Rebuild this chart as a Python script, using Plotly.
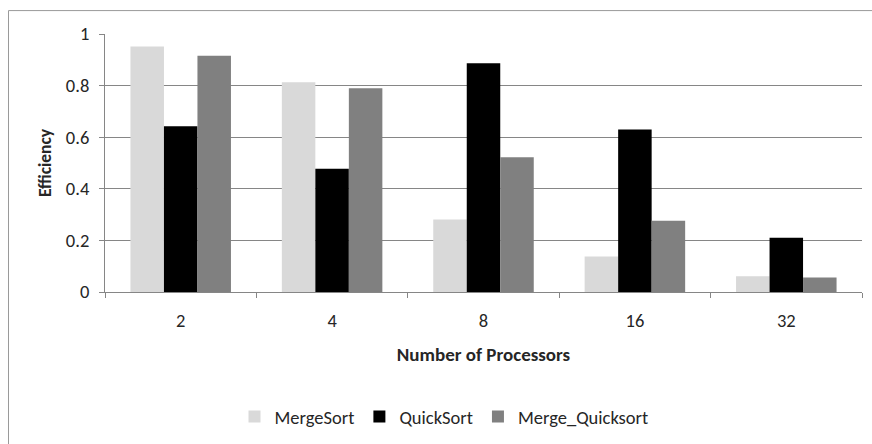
import plotly.graph_objects as go

# Parallel sorting efficiency by processor count
processors = ["2", "4", "8", "16", "32"]
merge_sort = [0.952, 0.813, 0.281, 0.138, 0.061]
quick_sort = [0.642, 0.478, 0.887, 0.630, 0.210]
merge_quicksort = [0.916, 0.790, 0.522, 0.276, 0.056]

series = [
    ("MergeSort", merge_sort, "#d9d9d9"),
    ("QuickSort", quick_sort, "#000000"),
    ("Merge_Quicksort", merge_quicksort, "#808080"),
]

FONT = "Carlito, Lato, 'Open Sans', sans-serif"
W, H = 872, 444
L, R, T, B = 105, 10, 34, 151

fig = go.Figure()
for name, vals, color in series:
    fig.add_trace(go.Bar(
        x=processors, y=vals, name=name,
        marker=dict(color=color, line=dict(width=0)),
    ))

plot_w = W - L - R
plot_h = H - T - B


def px_x(px):
    return (px - L) / plot_w


def px_y(py):
    return (H - B - py) / plot_h


fig.update_layout(
    width=W, height=H,
    margin=dict(l=L, r=R, t=T, b=B),
    paper_bgcolor="white", plot_bgcolor="white",
    barmode="group", bargap=0.336, bargroupgap=0,
    font=dict(family=FONT, size=18, color="#262626"),
    showlegend=True,
    legend=dict(
        orientation="h", x=px_x(444), xanchor="center",
        y=px_y(417), yanchor="middle",
        font=dict(size=18.5, color="#262626"),
        itemwidth=30, tracegroupgap=0,
    ),
    xaxis=dict(
        type="category",
        showline=True, linecolor="#868686", linewidth=1,
        ticks="outside", tickson="boundaries", ticklen=5, tickcolor="#868686",
        showgrid=False,
        tickfont=dict(size=18.5),
        ticklabelstandoff=12,
        title=dict(text="<b>Number of Processors</b>", font=dict(size=19), standoff=16),
    ),
    yaxis=dict(
        range=[0, 1], dtick=0.2, tick0=0,
        showline=True, linecolor="#868686", linewidth=1,
        ticks="outside", ticklen=5, tickcolor="#868686",
        showgrid=True, gridcolor="#868686", gridwidth=1,
        zeroline=False,
        tickfont=dict(size=18.5),
        ticklabelstandoff=6,
        title=dict(text="<b>Efficiency</b>", font=dict(size=17.5), standoff=9),
    ),
    shapes=[
        dict(type="rect", xref="paper", yref="paper",
             x0=px_x(8.5), x1=px_x(W + 20), y0=px_y(H + 20), y1=px_y(10.5),
             line=dict(color="#9a9a9a", width=1), fillcolor="rgba(0,0,0,0)",
             layer="below"),
    ],
)

fig.write_html("out.html")
